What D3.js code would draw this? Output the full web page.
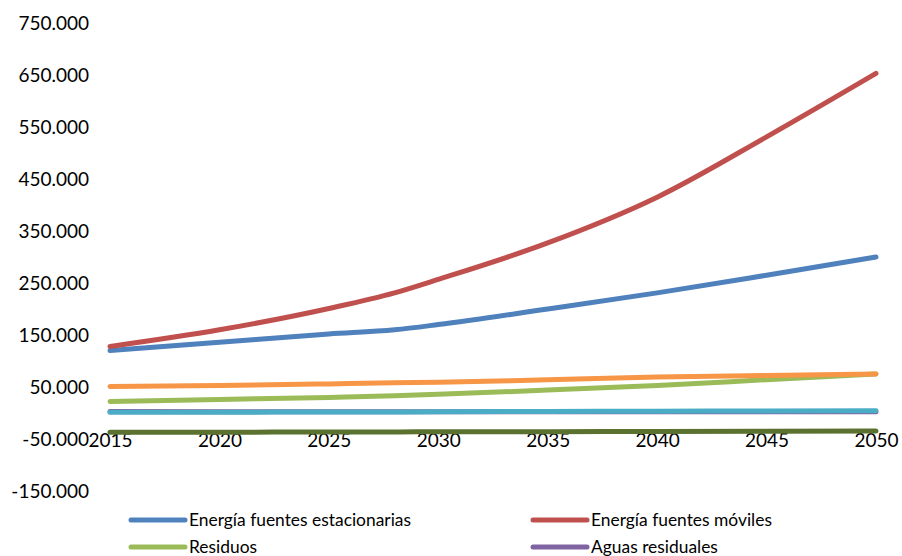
<!DOCTYPE html>
<html>
<head>
<meta charset="utf-8">
<script src="https://cdn.jsdelivr.net/npm/d3@7"></script>
<style>
  html, body { margin: 0; padding: 0; background: #fff; }
  svg { display: block; }
  text { font-family: Lato, "Open Sans", sans-serif; fill: #000; }
</style>
</head>
<body>
<svg id="chart" width="902" height="556"></svg>
<script>
// ---- data ----
const years = [2015, 2020, 2025, 2028, 2030, 2035, 2040, 2045, 2050];
const xTicks = [2015, 2020, 2025, 2030, 2035, 2040, 2045, 2050];
const yTicks = [-150000, -50000, 50000, 150000, 250000, 350000, 450000, 550000, 650000, 750000];

const energiaEstacionarias = [120000, 136000, 152000, 160000, 170000, 200000, 231000, 265000, 300000];
const energiaMoviles       = [128000, 160000, 201000, 231000, 257000, 327000, 415000, 531000, 653000];
const residuos             = [22000, 26000, 30000, 33000, 36000, 44000, 53000, 64000, 75000];
const aguasResiduales      = [3000, 2500, 2500, 2500, 2500, 2500, 2500, 2500, 2500];
const serieCian            = [1500, 1500, 2000, 2000, 2500, 3000, 3500, 4000, 4500];
const serieNaranja         = [51000, 53000, 56000, 58000, 59000, 64000, 69000, 72000, 75000];
const serieOliva           = [-37000, -37000, -36500, -36500, -36000, -36000, -35500, -35000, -34800];

const seriesNames  = ["Energía fuentes estacionarias", "Energía fuentes móviles", "Residuos", "Aguas residuales", "", "", ""];
const seriesValues = [energiaEstacionarias, energiaMoviles, residuos, aguasResiduales, serieCian, serieNaranja, serieOliva];
const seriesColors = ["#4F81BD", "#C0504D", "#9BBB59", "#8064A2", "#4BACC6", "#F79646", "#5B7130"];
const legendCount = 4;

// ---- chart ----
const svg = d3.select("#chart");
const x = d3.scaleLinear().domain([2015, 2050]).range([110, 876]);
const y = d3.scaleLinear().domain([-150000, 750000]).range([491, 23]);

const loc = d3.formatLocale({decimal: ",", thousands: ".", grouping: [3], currency: ["", ""], minus: "-"});
const fmt = loc.format(",");

// y axis labels (no axis line)
const yAxis = d3.axisLeft(y).tickValues(yTicks).tickFormat(fmt).tickSize(0).tickPadding(0);
const gy = svg.append("g").attr("transform", "translate(89,0)").call(yAxis);
gy.select(".domain").remove();
gy.selectAll("text").style("font-family", "Lato, sans-serif").style("font-size", "19px").attr("fill", "#000");

// x axis labels positioned at -50.000 crossing
const xAxis = d3.axisBottom(x).tickValues(xTicks).tickFormat(d3.format("d")).tickSize(0).tickPadding(0);
const gx = svg.append("g").attr("transform", `translate(0,${y(-50000)})`).call(xAxis);
gx.select(".domain").remove();
gx.selectAll("text").attr("dy", "0.35em").attr("y", 1)
  .style("font-family", "Lato, sans-serif").style("font-size", "19px").attr("fill", "#000");

// lines
const line = d3.line().x((d, i) => x(years[i])).y(d => y(d)).curve(d3.curveMonotoneX);
svg.append("g").selectAll("path")
  .data(seriesValues)
  .join("path")
  .attr("d", d => line(d))
  .attr("fill", "none")
  .attr("stroke", (d, i) => seriesColors[i])
  .attr("stroke-width", 5)
  .attr("stroke-linecap", "round")
  .attr("stroke-linejoin", "round");

// legend
const legendX = [131, 533];
const legendY = [520, 547];
const lg = svg.append("g");
for (let i = 0; i < legendCount; i++) {
  const cx = legendX[i % 2], cy = legendY[Math.floor(i / 2)];
  lg.append("line").attr("x1", cx).attr("x2", cx + 54).attr("y1", cy).attr("y2", cy)
    .attr("stroke", seriesColors[i]).attr("stroke-width", 5).attr("stroke-linecap", "round");
  lg.append("text").attr("x", cx + 58).attr("y", cy).attr("dy", "0.35em")
    .style("font-size", "17.4px").text(seriesNames[i]);
}
</script>
</body>
</html>
